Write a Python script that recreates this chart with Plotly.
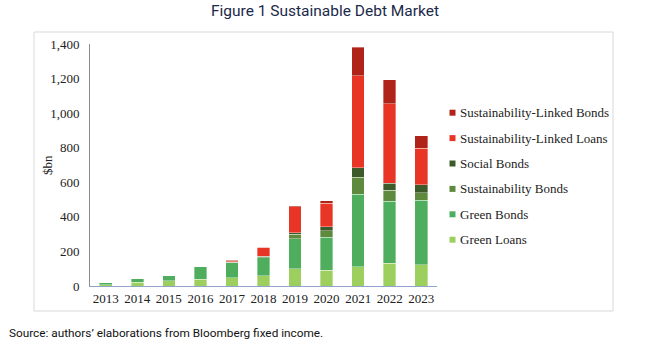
import plotly.graph_objects as go

# Annual sustainable debt issuance, $bn
years = ["2013", "2014", "2015", "2016", "2017", "2018", "2019", "2020", "2021", "2022", "2023"]
green_loans = [8, 22, 30, 39, 49, 60, 101, 91, 111, 132, 122]
green_bonds = [10, 21, 31, 74, 85, 104, 173, 191, 419, 358, 373]
sustainability_bonds = [0, 0, 1, 0, 3, 5, 25, 37, 98, 63, 45]
social_bonds = [0, 0, 1, 0, 2, 4, 8, 25, 56, 41, 46]
sl_loans = [0, 0, 0, 0, 8, 51, 152, 134, 533, 461, 212]
sl_bonds = [0, 0, 0, 0, 2, 0, 6, 16, 164, 139, 71]

series = [
    ("Green Loans", green_loans, "#9DCF5F"),
    ("Green Bonds", green_bonds, "#4FAE5D"),
    ("Sustainability Bonds", sustainability_bonds, "#5E8A3E"),
    ("Social Bonds", social_bonds, "#3D5A2A"),
    ("Sustainability-Linked Loans", sl_loans, "#E83525"),
    ("Sustainability-Linked Bonds", sl_bonds, "#B02318"),
]

W, H = 650, 346
L, R, T, B = 90, 213, 44, 60
PW, PH = W - L - R, H - T - B


def px_x(x):
    return (x - L) / PW


def px_y(y):
    return (H - B - y) / PH


serif = "Liberation Serif, Times New Roman, serif"
sans = "Roboto, sans-serif"

fig = go.Figure()
for name, vals, color in series:
    fig.add_trace(go.Bar(
        x=years, y=vals, name=name, showlegend=False,
        marker=dict(color=color, line=dict(color="rgba(255,255,255,0.6)", width=0.6)),
    ))

# Chart frame
shapes = [dict(
    type="rect", xref="paper", yref="paper",
    x0=px_x(34), x1=px_x(613), y0=px_y(311), y1=px_y(32),
    line=dict(color="#D9D9D9", width=1), fillcolor="rgba(0,0,0,0)", layer="below",
)]

# Legend drawn as small swatches with labels, top entry = top of the stack
annotations = []
row_y0, row_step = 112.7, 25.4
for k, (name, vals, color) in enumerate(reversed(series)):
    cy = row_y0 + k * row_step
    shapes.append(dict(
        type="rect", xref="paper", yref="paper",
        x0=px_x(449.5), x1=px_x(455.5), y0=px_y(cy + 3), y1=px_y(cy - 3),
        line=dict(width=0), fillcolor=color,
    ))
    annotations.append(dict(
        text=name, xref="paper", yref="paper", x=px_x(458), y=px_y(cy),
        xanchor="left", yanchor="middle", showarrow=False,
        font=dict(family=serif, size=13, color="#222222"),
    ))

annotations.append(dict(
    text="$bn", xref="paper", yref="paper", x=px_x(47), y=px_y(165),
    xanchor="center", yanchor="middle", showarrow=False, textangle=-90,
    font=dict(family=serif, size=13, color="#222222"),
))
annotations.append(dict(
    text="Source: authors\u2019 elaborations from Bloomberg fixed income.",
    xref="paper", yref="paper", x=px_x(7), y=px_y(333),
    xanchor="left", yanchor="middle", showarrow=False,
    font=dict(family=sans, size=11.8, color="#111111"),
))

fig.update_layout(
    width=W, height=H,
    margin=dict(l=L, r=R, t=T, b=B),
    paper_bgcolor="white", plot_bgcolor="white",
    barmode="stack", bargap=0.6,
    showlegend=False,
    xaxis=dict(
        showgrid=False, showline=True, linecolor="#8FA3CC", linewidth=1,
        ticks="", tickfont=dict(family=serif, size=13, color="#222222"),
        fixedrange=True,
    ),
    yaxis=dict(
        range=[0, 1400], dtick=200, tickformat=",d",
        showgrid=False, showline=True, linecolor="#8C8C8C", linewidth=1,
        ticks="", ticklabelstandoff=7,
        tickfont=dict(family=serif, size=13, color="#222222"),
        zeroline=False, fixedrange=True,
    ),
    title=dict(
        text="Figure 1 Sustainable Debt Market",
        x=0.5, xanchor="center", y=1 - 11 / H, yanchor="middle",
        font=dict(family=sans, size=15.5, color="#1B2A4A"),
    ),
    shapes=shapes,
    annotations=annotations,
)

fig.write_html("out.html")
